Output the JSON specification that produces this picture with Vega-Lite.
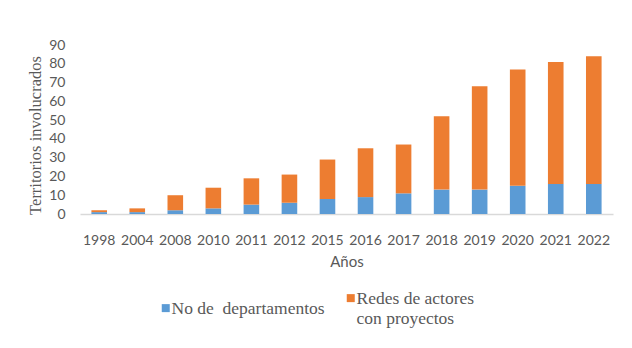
{
  "$schema": "https://vega.github.io/schema/vega-lite/v6.json",
  "width": 533,
  "height": 169,
  "autosize": {"type": "none"},
  "padding": {"left": 80, "top": 45, "right": 19, "bottom": 134},
  "background": "white",
  "data": {
    "values": [
      {"year": "1998", "serie": "No de  departamentos", "value": 1},
      {"year": "1998", "serie": "Redes de actores con proyectos", "value": 1},
      {"year": "2004", "serie": "No de  departamentos", "value": 1},
      {"year": "2004", "serie": "Redes de actores con proyectos", "value": 2},
      {"year": "2008", "serie": "No de  departamentos", "value": 2},
      {"year": "2008", "serie": "Redes de actores con proyectos", "value": 8},
      {"year": "2010", "serie": "No de  departamentos", "value": 3},
      {"year": "2010", "serie": "Redes de actores con proyectos", "value": 11},
      {"year": "2011", "serie": "No de  departamentos", "value": 5},
      {"year": "2011", "serie": "Redes de actores con proyectos", "value": 14},
      {"year": "2012", "serie": "No de  departamentos", "value": 6},
      {"year": "2012", "serie": "Redes de actores con proyectos", "value": 15},
      {"year": "2015", "serie": "No de  departamentos", "value": 8},
      {"year": "2015", "serie": "Redes de actores con proyectos", "value": 21},
      {"year": "2016", "serie": "No de  departamentos", "value": 9},
      {"year": "2016", "serie": "Redes de actores con proyectos", "value": 26},
      {"year": "2017", "serie": "No de  departamentos", "value": 11},
      {"year": "2017", "serie": "Redes de actores con proyectos", "value": 26},
      {"year": "2018", "serie": "No de  departamentos", "value": 13},
      {"year": "2018", "serie": "Redes de actores con proyectos", "value": 39},
      {"year": "2019", "serie": "No de  departamentos", "value": 13},
      {"year": "2019", "serie": "Redes de actores con proyectos", "value": 55},
      {"year": "2020", "serie": "No de  departamentos", "value": 15},
      {"year": "2020", "serie": "Redes de actores con proyectos", "value": 62},
      {"year": "2021", "serie": "No de  departamentos", "value": 16},
      {"year": "2021", "serie": "Redes de actores con proyectos", "value": 65},
      {"year": "2022", "serie": "No de  departamentos", "value": 16},
      {"year": "2022", "serie": "Redes de actores con proyectos", "value": 68}
    ]
  },
  "mark": {"type": "bar"},
  "encoding": {
    "x": {
      "field": "year",
      "type": "ordinal",
      "sort": null,
      "scale": {"paddingInner": 0.59, "paddingOuter": 0.3},
      "axis": {
        "title": "Años",
        "labelAngle": 0,
        "ticks": false,
        "tickSize": 0,
        "labelPadding": 19,
        "labelFont": "Lato",
        "labelFontSize": 14,
        "labelColor": "#595959",
        "titleFont": "Lato",
        "titleFontSize": 15,
        "titleFontWeight": "normal",
        "titleColor": "#595959",
        "titlePadding": 7,
        "domainColor": "#D9D9D9",
        "domainWidth": 1.5,
        "grid": false
      }
    },
    "y": {
      "field": "value",
      "type": "quantitative",
      "stack": "zero",
      "scale": {"domain": [0, 90]},
      "axis": {
        "title": "Territorios involucrados",
        "values": [0, 10, 20, 30, 40, 50, 60, 70, 80, 90],
        "domain": false,
        "ticks": false,
        "tickSize": 0,
        "grid": false,
        "labelPadding": 15,
        "labelFont": "Lato",
        "labelFontSize": 14,
        "labelColor": "#595959",
        "titleFont": "Liberation Serif",
        "titleFontSize": 16.5,
        "titleFontWeight": "normal",
        "titleColor": "#595959",
        "titleX": -45,
        "titleY": 90,
        "titleAlign": "center",
        "titleBaseline": "middle"
      }
    },
    "color": {
      "field": "serie",
      "type": "nominal",
      "scale": {
        "domain": ["No de  departamentos", "Redes de actores con proyectos"],
        "range": ["#5B9BD5", "#ED7D31"]
      },
      "legend": {
        "title": null,
        "orient": "none",
        "legendX": 77,
        "legendY": 236,
        "direction": "horizontal",
        "symbolType": "M-1,1H1V3H-1Z",
        "symbolSize": 64,
        "symbolStrokeWidth": 0,
        "labelFont": "Liberation Serif",
        "labelFontSize": 17.5,
        "labelColor": "#595959",
        "labelLimit": 300,
        "columnPadding": 17,
        "labelOffset": -3,
        "labelBaseline": "top",
        "labelExpr": "datum.label == 'Redes de actores con proyectos' ? ['Redes de actores', 'con proyectos'] : 'No de\u00a0 departamentos'",
        "encode": {"labels": {"update": {"lineHeight": {"value": 20}}}}
      }
    },
    "order": {"field": "serie", "sort": "ascending"}
  },
  "config": {"view": {"stroke": null}}
}
